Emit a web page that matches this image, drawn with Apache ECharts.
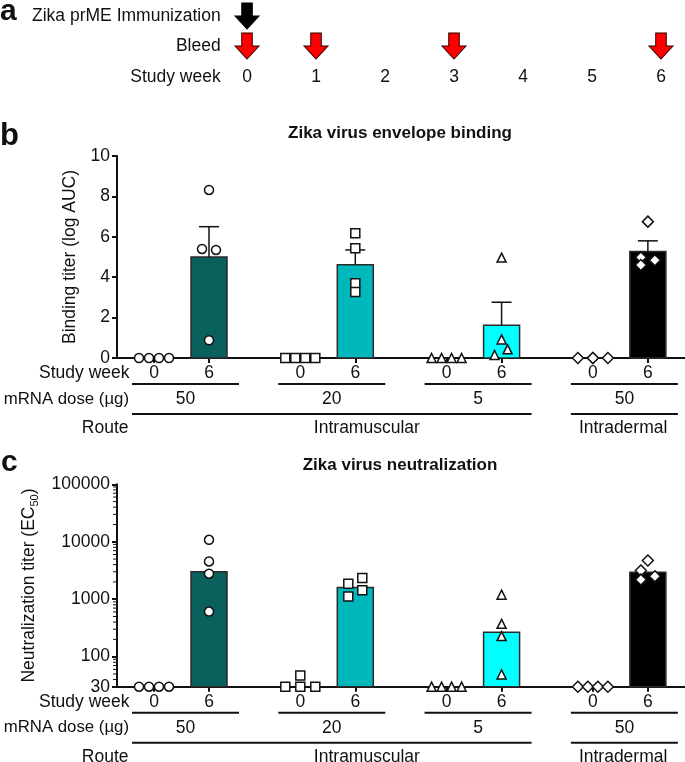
<!DOCTYPE html>
<html>
<head>
<meta charset="utf-8">
<script src="https://cdn.jsdelivr.net/npm/echarts@6/dist/echarts.min.js"></script>
<style>
  html, body { margin: 0; padding: 0; background: #fff; }
  #chart { width: 685px; height: 762px; }
</style>
</head>
<body>
<div id="chart"></div>
<script>
// panel a: study schedule
const studyWeeks = [0, 1, 2, 3, 4, 5, 6];
const immunizationWeeks = [0];
const bleedWeeks = [0, 1, 3, 6];

// groups used in panels b and c
const doses = ['50', '20', '5', '50'];
const routes = ['Intramuscular', 'Intramuscular', 'Intramuscular', 'Intradermal'];
const sampleWeeks = ['0', '6'];

// panel b: binding titer (log AUC), one value per animal
const bindingWeek0 = [[0, 0, 0, 0], [0, 0, 0, 0], [0, 0, 0, 0], [0, 0, 0, 0]];
const bindingWeek6 = [[8.32, 5.4, 5.35, 0.88], [6.17, 5.43, 3.7, 3.27], [4.97, 0.92, 0.43, 0.15], [6.75, 4.98, 4.84, 4.6]];
const bindingMean = [5.0, 4.62, 1.62, 5.27];
const bindingSem = [1.5, 0.73, 1.14, 0.53];

// panel c: neutralization titer (EC50), one value per animal
const neutWeek0 = [[30, 30, 30, 30], [30, 47, 30, 30], [30, 30, 30, 30], [30, 30, 30, 30]];
const neutWeek6 = [[10800, 4540, 2780, 610], [1860, 1120, 2340, 1430], [1200, 373, 228, 49], [4720, 3160, 2500, 2190]];
const neutGeoMean = [3000, 1600, 267, 2950];
const neutTicks = [30, 100, 1000, 10000, 100000];

// styling
const FONT = '"Liberation Sans", Arial, sans-serif';
const INK = '#111';
const FS = 17.5;
const groupColors = ['#0a605d', '#00b8bb', '#00ffff', '#000000'];
const groupSymbols = ['circle', 'rect', 'triangle', 'diamond'];
const GROUP_GAP = 2.66;
const X_MIN = -0.673, X_MAX = 9.655;
const pos = (g, w) => g * GROUP_GAP + w;

// pixel jitter of the animals so they do not overlap
const jitter = {
  b0: [[-15, -5, 5, 15], [-15, -5, 5, 15], [-15, -5, 5, 15], [-15, 0, 0, 15]],
  b6: [[0, -7, 7, 0], [0, 0, 0, 0], [0, 0, 6, -7], [0, -7, 7, -7]],
  c0: [[-15, -5, 5, 15], [-15, 0, 0, 15], [-15, -5, 5, 15], [-15, -5, 5, 15]],
  c6: [[0, 0, 0, 0], [-7, -7, 7, 7], [0, 0, 0, 0], [0, -7, 7, -7]]
};

const groupTicks = [];
doses.forEach((d, g) => sampleWeeks.forEach((w, i) => groupTicks.push(pos(g, i))));

function groupXAxis (gridIndex) {
  return {
    type: 'value', gridIndex, min: X_MIN, max: X_MAX,
    axisLine: {onZero: false, lineStyle: {color: INK, width: 2}},
    axisTick: {show: true, customValues: groupTicks, length: 5, lineStyle: {color: INK, width: 2}},
    axisLabel: {
      customValues: groupTicks, margin: 6, fontSize: FS, color: INK,
      formatter: v => sampleWeeks[groupTicks.findIndex(t => Math.abs(t - v) < 1e-6) % 2]
    },
    splitLine: {show: false}
  };
}

function pointSeries (axis, values, offsets, week) {
  return values.map((vals, g) => ({
    type: 'scatter', xAxisIndex: axis, yAxisIndex: axis, clip: false, z: 5,
    symbol: groupSymbols[g], symbolSize: groupSymbols[g] === 'diamond' ? 11 : 9,
    itemStyle: {color: '#fff', borderColor: INK, borderWidth: 1.5, opacity: 1},
    data: vals.map((v, i) => ({value: [pos(g, week), v], symbolOffset: [offsets[g][i], 0]}))
  }));
}

function barSeries (axis, means, base) {
  return {
    type: 'custom', xAxisIndex: axis, yAxisIndex: axis, z: 2,
    data: means.map((m, g) => [pos(g, 1), m, g]),
    renderItem: (params, api) => {
      const top = api.coord([api.value(0), api.value(1)]);
      const bottom = api.coord([api.value(0), base]);
      return {
        type: 'rect',
        shape: {x: top[0] - 18, y: top[1], width: 36, height: bottom[1] - top[1]},
        style: {fill: groupColors[api.value(2)], stroke: '#2a2a2a', lineWidth: 1.5}
      };
    }
  };
}

function errorSeries (axis, means, sems) {
  return {
    type: 'custom', xAxisIndex: axis, yAxisIndex: axis, z: 3,
    data: means.map((m, g) => [pos(g, 1), m, m + sems[g]]),
    renderItem: (params, api) => {
      const lo = api.coord([api.value(0), api.value(1)]);
      const hi = api.coord([api.value(0), api.value(2)]);
      const st = {stroke: INK, lineWidth: 1.5};
      return {
        type: 'group',
        children: [
          {type: 'line', shape: {x1: lo[0], y1: lo[1], x2: hi[0], y2: hi[1]}, style: st},
          {type: 'line', shape: {x1: hi[0] - 10, y1: hi[1], x2: hi[0] + 10, y2: hi[1]}, style: st}
        ]
      };
    }
  };
}

// small log ticks between the decades of panel c
const minorTicks = [];
[10, 100, 1000, 10000].forEach(d => {
  for (let k = 2; k <= 9; k++) if (k * d > 30) minorTicks.push(k * d);
});

const minorTickSeries = {
  type: 'custom', xAxisIndex: 2, yAxisIndex: 2, silent: true, clip: false, z: 10,
  data: minorTicks.map(v => [0, v]),
  renderItem: (params, api) => {
    const p = api.coord([X_MIN, api.value(1)]);
    return {
      type: 'line', z2: 10,
      shape: {x1: p[0] - 4, y1: p[1], x2: p[0] - 1, y2: p[1]},
      style: {stroke: INK, lineWidth: 1}
    };
  }
};

const arrowPath = 'path://M28,0L72,0L72,50L100,50L50,100L0,50L28,50Z';

const option = {
  animation: false,
  textStyle: {fontFamily: FONT, color: INK},
  grid: [
    {left: 221.7, top: 1, width: 460, height: 60},
    {left: 117, top: 156, width: 568, height: 202},
    {left: 117, top: 484.3, width: 568, height: 202.4}
  ],
  xAxis: [
    {
      type: 'value', gridIndex: 0, min: -0.367, max: 6.3,
      axisLine: {onZero: false, lineStyle: {color: INK, width: 2}},
      axisTick: {show: false},
      axisLabel: {customValues: studyWeeks, margin: 7, fontSize: FS, color: INK},
      splitLine: {show: false}
    },
    groupXAxis(1),
    groupXAxis(2)
  ],
  yAxis: [
    {
      type: 'category', gridIndex: 0, data: ['Bleed', 'Zika prME Immunization'],
      axisLine: {show: false}, axisTick: {show: false},
      axisLabel: {fontSize: FS, color: INK, margin: 1}
    },
    {
      type: 'value', gridIndex: 1, min: 0, max: 10, interval: 2,
      name: 'Binding titer (log AUC)', nameLocation: 'middle', nameGap: 37,
      nameTextStyle: {fontSize: FS, color: INK},
      axisLine: {show: true, onZero: false, lineStyle: {color: INK, width: 2}},
      axisTick: {show: true, length: 5, lineStyle: {color: INK, width: 2}},
      axisLabel: {fontSize: FS, color: INK, margin: 7},
      splitLine: {show: false}
    },
    {
      type: 'log', logBase: 10, gridIndex: 2, min: 30, max: 100000,
      name: 'Neutralization titer (EC{sub|50})', nameLocation: 'middle', nameGap: 70,
      nameTextStyle: {
        fontSize: FS, color: INK, lineHeight: 24,
        rich: {sub: {fontSize: 11, color: INK, verticalAlign: 'bottom', lineHeight: 24}}
      },
      axisLine: {show: true, onZero: false, lineStyle: {color: INK, width: 2}},
      axisTick: {show: true, length: 5, lineStyle: {color: INK, width: 2}},
      axisLabel: {
        fontSize: FS, color: INK, margin: 7, customValues: neutTicks,
        formatter: v => String(Math.round(v))
      },
      splitLine: {show: false}
    }
  ],
  series: [
    {
      type: 'scatter', xAxisIndex: 0, yAxisIndex: 0, clip: false,
      symbol: arrowPath, symbolSize: [24, 26],
      itemStyle: {color: '#000', borderColor: '#000', borderWidth: 1, opacity: 1},
      data: immunizationWeeks.map(w => [w, 'Zika prME Immunization'])
    },
    {
      type: 'scatter', xAxisIndex: 0, yAxisIndex: 0, clip: false,
      symbol: arrowPath, symbolSize: [24, 26],
      itemStyle: {color: '#ff0000', borderColor: '#2a0000', borderWidth: 1, opacity: 1},
      data: bleedWeeks.map(w => [w, 'Bleed'])
    },
    barSeries(1, bindingMean, 0),
    errorSeries(1, bindingMean, bindingSem),
    ...pointSeries(1, bindingWeek0, jitter.b0, 0),
    ...pointSeries(1, bindingWeek6, jitter.b6, 1),
    barSeries(2, neutGeoMean, 30),
    minorTickSeries,
    ...pointSeries(2, neutWeek0, jitter.c0, 0),
    ...pointSeries(2, neutWeek6, jitter.c6, 1)
  ]
};

const chart = echarts.init(document.getElementById('chart'));
chart.setOption(option);

// labels and group lines below the panels
function txt (text, x, y, align, size, weight) {
  return {
    type: 'text', x, y, z: 10,
    style: {text, fill: INK, fontFamily: FONT, fontSize: size || FS, fontWeight: weight || 'normal',
      align: align || 'center', verticalAlign: 'middle'}
  };
}
function hline (x1, x2, y) {
  return {type: 'line', z: 10, shape: {x1, y1: y, x2, y2: y}, style: {stroke: INK, lineWidth: 2}};
}

const routeLabelAt = [3.87, 8.53];
const graphics = [
  txt('a', 0, 12, 'left', 30, 'bold'),
  txt('Study week', 220.7, 77, 'right'),
  txt('b', 0, 136, 'left', 31, 'bold'),
  txt('Zika virus envelope binding', 400, 133, 'center', 17, 'bold'),
  txt('c', 1, 463, 'left', 30, 'bold'),
  txt('Zika virus neutralization', 400, 465, 'center', 17, 'bold')
];

[1, 2].forEach(axis => {
  const base = axis === 1 ? 0 : 30;
  const axisY = chart.convertToPixel({yAxisIndex: axis}, base);
  const px = v => chart.convertToPixel({xAxisIndex: axis}, v);
  graphics.push(txt('Study week', 129.5, axisY + 15, 'right'));
  graphics.push(txt('mRNA dose (\u00b5g)', 129, axisY + 41, 'right', 16.8));
  graphics.push(txt('Route', 128.5, axisY + 70, 'right'));
  const spans = doses.map((d, g) => [px(pos(g, 0)) - 22, px(pos(g, 1)) + 30]);
  doses.forEach((d, g) => {
    graphics.push(hline(spans[g][0], spans[g][1], axisY + 26));
    graphics.push(txt(d, (spans[g][0] + spans[g][1]) / 2, axisY + 41));
  });
  const routeNames = [...new Set(routes)];
  routeNames.forEach((r, k) => {
    const idx = routes.map((rr, g) => rr === r ? g : -1).filter(g => g >= 0);
    graphics.push(hline(spans[idx[0]][0], spans[idx[idx.length - 1]][1], axisY + 56));
    graphics.push(txt(r, px(routeLabelAt[k]), axisY + 70));
  });
});

chart.setOption({graphic: graphics});
</script>
</body>
</html>
